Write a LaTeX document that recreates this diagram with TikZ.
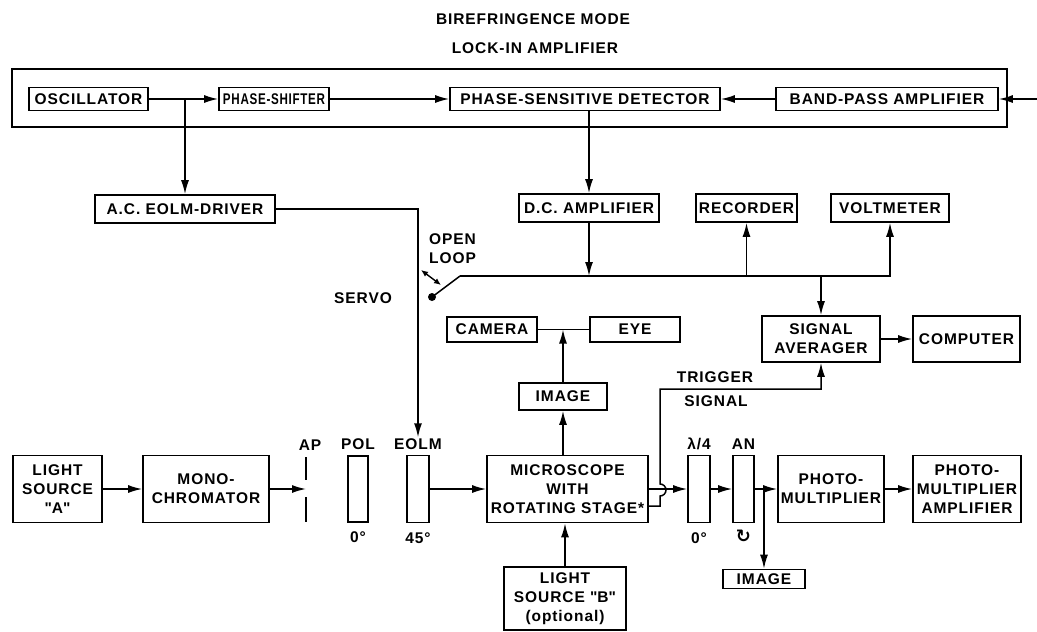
\documentclass[tikz,border=0pt]{standalone}
\usepackage{fontspec}
\setmainfont{Liberation Sans}[LetterSpace=6]
\newfontfamily\symfont{DejaVu Sans}
\usetikzlibrary{arrows.meta,positioning}

\begin{document}
\begin{tikzpicture}[>={Latex[length=14pt,width=8pt]},font=\bfseries\fontsize{15.5}{19}\selectfont,
  box/.style={draw,line width=1.7pt,inner sep=1pt,align=center},
  lbl/.style={inner sep=1pt,align=center},
  link/.style={line width=1.5pt}]
\begin{scope}[x=1pt,y=-1pt]
  \useasboundingbox (0,0) rectangle (1037,632);
  \node[lbl] (title) at (533,19) {BIREFRINGENCE MODE};
  \node[lbl] (subtitle) at (535,48) {LOCK-IN AMPLIFIER};
  \draw[link] (12,69) rectangle (1007,127);
  \node[box,minimum width=119,minimum height=23] (osc) at (88.5,99) {OSCILLATOR};
  \node[box,minimum width=110,minimum height=23] (shifter) at (274,99) {\scalebox{0.75}[1]{PHASE-SHIFTER}};
  \node[box,minimum width=270,minimum height=23] (psd) at (585,99) {PHASE-SENSITIVE DETECTOR};
  \node[box,minimum width=222,minimum height=23] (bpa) at (887,99) {BAND-PASS AMPLIFIER};
  \coordinate (bpain) at (1037,99);
  \draw[link,->] (osc) -- (shifter);
  \draw[link,->] (shifter) -- (psd);
  \draw[link,->] (bpa) -- (psd);
  \draw[link,->] (bpain) -- (bpa);

  \node[box,minimum width=180,minimum height=28] (acdrv) at (185,209) {A.C. EOLM-DRIVER};
  \node[box,minimum width=140,minimum height=28] (dcamp) at (589,208) {D.C. AMPLIFIER};
  \node[box,minimum width=101,minimum height=28] (rec) at (746.5,208) {RECORDER};
  \node[box,minimum width=118,minimum height=28] (volt) at (890,208) {VOLTMETER};
  \draw[link,->] (acdrv.north |- osc.east) -- (acdrv.north);
  \draw[link,->] (dcamp.north |- psd.south) -- (dcamp.north);

  \coordinate (swdot) at (432,297);
  \coordinate (swtip) at (460,276);
  \fill (swdot) circle (4);
  \draw[link] (swdot) -- (swtip);
  \draw[link,->] (swtip) -| (volt.south);
  \draw[line width=1.4pt,{Latex[length=7pt,width=6pt]}-{Latex[length=7pt,width=6pt]}] (421,270) -- (441,285);
  \node[lbl,anchor=west,align=left] (openloop) at (428,249) {OPEN\\LOOP};
  \node[lbl] (servo) at (363,298) {SERVO};

  \node[box,minimum width=90,minimum height=25] (cam) at (492,329.5) {CAMERA};
  \node[box,minimum width=90,minimum height=25] (eye) at (635,329.5) {EYE};
  \node[box,minimum width=88,minimum height=27] (imgup) at (563,396.5) {IMAGE};
  \node[box,minimum width=118,minimum height=46] (sa) at (821,339) {SIGNAL\\AVERAGER};
  \node[box,minimum width=107,minimum height=46] (comp) at (966.5,339) {COMPUTER};
  \draw[link] (cam) -- (eye);
  \draw[link,->] (imgup.north) -- (imgup.north |- cam.east);
  \draw[link,->] (dcamp.south) -- (dcamp.south |- swtip);
  \draw[link,->] (rec.south |- swtip) -- (rec.south);
  \draw[link,->] (sa.north |- swtip) -- (sa.north);
  \draw[link,->] (sa) -- (comp);

  \node[box,minimum width=89,minimum height=67] (lsa) at (57.5,489) {LIGHT\\SOURCE\\\textquotedbl A\textquotedbl};
  \node[box,minimum width=126,minimum height=67] (mono) at (206,489) {MONO-\\CHROMATOR};
  \coordinate (ap) at (306,489);
  \draw[link] (306,457) -- (306,480) (306,497) -- (306,522);
  \node[lbl] (aplbl) at (310,445) {AP};
  \node[box,minimum width=20,minimum height=66] (pol) at (358,489) {};
  \node[box,minimum width=22,minimum height=67] (eolm) at (418,489) {};
  \node[lbl,above=4pt of pol] (pollbl) {POL};
  \node[lbl,above=4pt of eolm] (eolmlbl) {EOLM};
  \node[lbl,below=8pt of pol] (polang) {0°};
  \node[lbl,below=8pt of eolm] (eolmang) {45°};
  \node[box,minimum width=161,minimum height=67] (mic) at (567.5,489) {MICROSCOPE\\WITH\\ROTATING STAGE*};
  \node[box,minimum width=122,minimum height=63] (lsb) at (565,598.5) {LIGHT\\SOURCE \textquotedbl B\textquotedbl\\(optional)};
  \draw[link,->] (lsa) -- (mono);
  \draw[link,->] (mono) -- (ap);
  \draw[link,->] (acdrv.east) -| (eolmlbl.north);
  \draw[link,->] (eolm) -- (mic);
  \draw[link,->] (mic.north -| imgup.south) -- (imgup.south);
  \draw[link,->] (lsb.north) -- (lsb.north |- mic.south);

  \node[box,minimum width=22,minimum height=67] (lam) at (699,489) {};
  \node[box,minimum width=21,minimum height=67] (an) at (743.5,489) {};
  \node[box,minimum width=106,minimum height=67] (pm) at (831,489) {PHOTO-\\MULTIPLIER};
  \node[box,minimum width=108,minimum height=67] (pma) at (967,489) {PHOTO-\\MULTIPLIER\\AMPLIFIER};
  \node[lbl,above=4pt of lam] (lamlbl) {λ/4};
  \node[lbl,above=4pt of an] (anlbl) {AN};
  \node[lbl,below=8pt of lam] (lamang) {0°};
  \node[lbl,below=5pt of an] (anrot) {\symfont\bfseries\fontsize{18}{19}\selectfont ↻};
  \node[box,minimum width=82,minimum height=19] (imglow) at (764,579) {IMAGE};
  \coordinate (branch) at (imglow.north |- an.east);
  \coordinate (trigbase) at (660,506);
  \draw[link,->] (mic) -- (lam);
  \draw[link,->] (lam) -- (an);
  \draw[link,->] (an) -- (pm);
  \draw[link,->] (pm) -- (pma);
  \draw[link,->] (branch) -- (imglow.north);
  \draw[link,->] (trigbase -| mic.east) -- (trigbase) -- (660,496) arc (90:-90:6) -- (660,389) -| (sa.south);
  \node[lbl] (triglbl) at (715,377) {TRIGGER};
  \node[lbl] (siglbl) at (716,401) {SIGNAL};
\end{scope}
\end{tikzpicture}
\end{document}
